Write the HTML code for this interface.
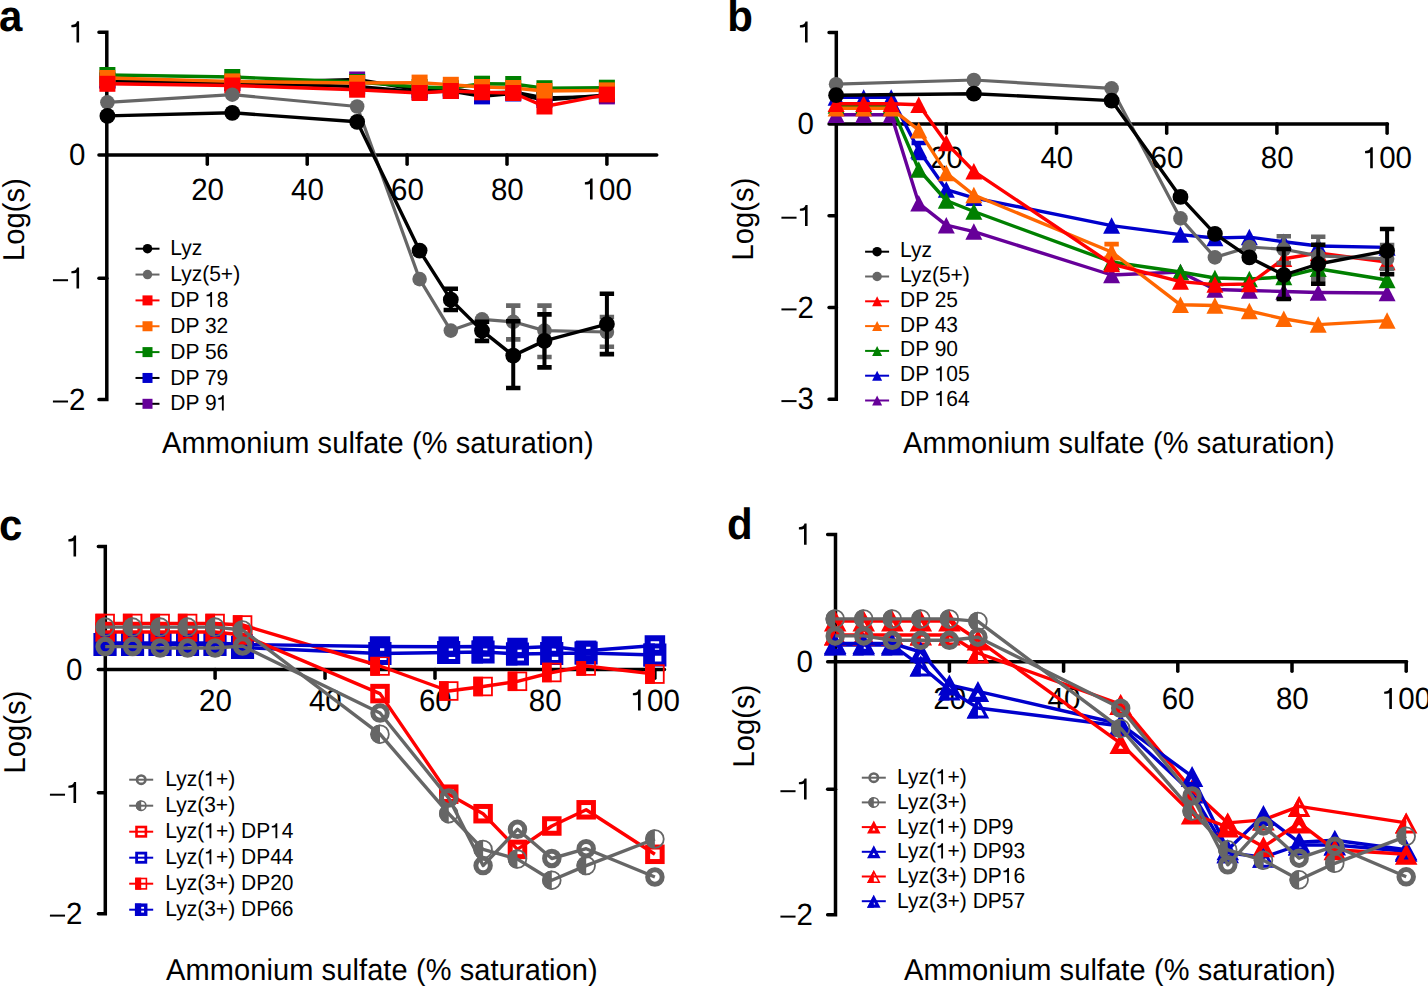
<!DOCTYPE html>
<html><head><meta charset="utf-8"><title>Figure</title>
<style>
html,body{margin:0;padding:0;background:#fff;}
body{width:1428px;height:986px;overflow:hidden;}
svg{display:block;}
text{font-family:"Liberation Sans", sans-serif;fill:#000;text-rendering:geometricPrecision;}
.tl{font-size:29.5px;}
.at{font-size:29px;letter-spacing:0.1px;}
.lg{font-size:21px;}
.pl{font-size:42px;font-weight:bold;}
.h1{fill:none;}
</style></head><body>
<svg width="1428" height="986" viewBox="0 0 1428 986">
<rect width="1428" height="986" fill="#fff"></rect>
<g stroke="#000" stroke-width="3.5" fill="none" stroke-linecap="round">
<path d="M98.95 32.2 H106.8 V399.6 H98.95" stroke-linejoin="miter" stroke-linecap="round"></path>
<path d="M98.95 278.3 H106.8"></path>
<path d="M98.95 155 H656.75"></path>
<path d="M207.3 155 V164.25"></path>
<path d="M307.2 155 V164.25"></path>
<path d="M407.1 155 V164.25"></path>
<path d="M507 155 V164.25"></path>
<path d="M606.9 155 V164.25"></path>
</g>
<text transform="translate(85.5,42.4) scale(1,1.04)" text-anchor="end" class="tl"><tspan class="h1">1</tspan></text>
<text transform="translate(85.5,165.2) scale(1,1.04)" text-anchor="end" class="tl">0</text>
<text transform="translate(85.5,288.5) scale(1,1.04)" text-anchor="end" class="tl"><tspan class="h1">−</tspan><tspan class="h1">1</tspan></text>
<text transform="translate(85.5,409.8) scale(1,1.04)" text-anchor="end" class="tl"><tspan class="h1">−</tspan>2</text>
<text transform="translate(207.6,199.6) scale(1,1.04)" text-anchor="middle" class="tl">20</text>
<text transform="translate(307.5,199.6) scale(1,1.04)" text-anchor="middle" class="tl">40</text>
<text transform="translate(407.4,199.6) scale(1,1.04)" text-anchor="middle" class="tl">60</text>
<text transform="translate(507.3,199.6) scale(1,1.04)" text-anchor="middle" class="tl">80</text>
<text transform="translate(607.2,199.6) scale(1,1.04)" text-anchor="middle" class="tl"><tspan class="h1">1</tspan>00</text>
<polyline points="107.4,80.5 232.28,83 357.15,79.5 419.59,90 450.81,89 482.02,93 513.24,92 544.46,98 606.9,96.4" fill="none" stroke="#000" stroke-width="3.4" stroke-linejoin="round"></polyline>
<rect x="99.4" y="72.5" width="16" height="16" fill="#660099"></rect>
<rect x="224.28" y="75" width="16" height="16" fill="#660099"></rect>
<rect x="349.15" y="71.5" width="16" height="16" fill="#660099"></rect>
<rect x="411.59" y="82" width="16" height="16" fill="#660099"></rect>
<rect x="442.81" y="81" width="16" height="16" fill="#660099"></rect>
<rect x="474.02" y="85" width="16" height="16" fill="#660099"></rect>
<rect x="505.24" y="84" width="16" height="16" fill="#660099"></rect>
<rect x="536.46" y="90" width="16" height="16" fill="#660099"></rect>
<rect x="598.9" y="88.4" width="16" height="16" fill="#660099"></rect>
<polyline points="107.4,80.5 232.28,83 357.15,86.5 419.59,92 450.81,91 482.02,96.4 513.24,93.5 544.46,100 606.9,95" fill="none" stroke="#000" stroke-width="3.4" stroke-linejoin="round"></polyline>
<rect x="99.4" y="72.5" width="16" height="16" fill="#0000cc"></rect>
<rect x="224.28" y="75" width="16" height="16" fill="#0000cc"></rect>
<rect x="349.15" y="78.5" width="16" height="16" fill="#0000cc"></rect>
<rect x="411.59" y="84" width="16" height="16" fill="#0000cc"></rect>
<rect x="442.81" y="83" width="16" height="16" fill="#0000cc"></rect>
<rect x="474.02" y="88.4" width="16" height="16" fill="#0000cc"></rect>
<rect x="505.24" y="85.5" width="16" height="16" fill="#0000cc"></rect>
<rect x="536.46" y="92" width="16" height="16" fill="#0000cc"></rect>
<rect x="598.9" y="87" width="16" height="16" fill="#0000cc"></rect>
<polyline points="107.4,75 232.28,77 357.15,82 419.59,87 450.81,88 482.02,83.7 513.24,84 544.46,88.2 606.9,87.7" fill="none" stroke="#008000" stroke-width="3.4" stroke-linejoin="round"></polyline>
<rect x="99.4" y="67" width="16" height="16" fill="#008000"></rect>
<rect x="224.28" y="69" width="16" height="16" fill="#008000"></rect>
<rect x="349.15" y="74" width="16" height="16" fill="#008000"></rect>
<rect x="411.59" y="79" width="16" height="16" fill="#008000"></rect>
<rect x="442.81" y="80" width="16" height="16" fill="#008000"></rect>
<rect x="474.02" y="75.7" width="16" height="16" fill="#008000"></rect>
<rect x="505.24" y="76" width="16" height="16" fill="#008000"></rect>
<rect x="536.46" y="80.2" width="16" height="16" fill="#008000"></rect>
<rect x="598.9" y="79.7" width="16" height="16" fill="#008000"></rect>
<polyline points="107.4,78 232.28,81.4 357.15,83 419.59,82.6 450.81,84.8 482.02,87 513.24,88 544.46,91 606.9,90.4" fill="none" stroke="#ff6600" stroke-width="3.4" stroke-linejoin="round"></polyline>
<rect x="99.4" y="70" width="16" height="16" fill="#ff6600"></rect>
<rect x="224.28" y="73.4" width="16" height="16" fill="#ff6600"></rect>
<rect x="349.15" y="75" width="16" height="16" fill="#ff6600"></rect>
<rect x="411.59" y="74.6" width="16" height="16" fill="#ff6600"></rect>
<rect x="442.81" y="76.8" width="16" height="16" fill="#ff6600"></rect>
<rect x="474.02" y="79" width="16" height="16" fill="#ff6600"></rect>
<rect x="505.24" y="80" width="16" height="16" fill="#ff6600"></rect>
<rect x="536.46" y="83" width="16" height="16" fill="#ff6600"></rect>
<rect x="598.9" y="82.4" width="16" height="16" fill="#ff6600"></rect>
<polyline points="107.4,83.8 232.28,85.5 357.15,89.7 419.59,93 450.81,91 482.02,92.3 513.24,93 544.46,106.5 606.9,94.6" fill="none" stroke="#ff0000" stroke-width="3.4" stroke-linejoin="round"></polyline>
<rect x="99.4" y="75.8" width="16" height="16" fill="#ff0000"></rect>
<rect x="224.28" y="77.5" width="16" height="16" fill="#ff0000"></rect>
<rect x="349.15" y="81.7" width="16" height="16" fill="#ff0000"></rect>
<rect x="411.59" y="85" width="16" height="16" fill="#ff0000"></rect>
<rect x="442.81" y="83" width="16" height="16" fill="#ff0000"></rect>
<rect x="474.02" y="84.3" width="16" height="16" fill="#ff0000"></rect>
<rect x="505.24" y="85" width="16" height="16" fill="#ff0000"></rect>
<rect x="536.46" y="98.5" width="16" height="16" fill="#ff0000"></rect>
<rect x="598.9" y="86.6" width="16" height="16" fill="#ff0000"></rect>
<polyline points="107.4,102.3 232.28,94.7 357.15,106.5 419.59,279.1 450.81,330.6 482.02,319.4 513.24,321.8 544.46,330.6 606.9,332" fill="none" stroke="#666666" stroke-width="3.2" stroke-linejoin="round"></polyline>
<path d="M513.24 305.6 V339.4" stroke="#666666" stroke-width="4" fill="none"></path><path d="M506.04 305.6 H520.44 M506.04 339.4 H520.44" stroke="#666666" stroke-width="4.6" fill="none"></path>
<path d="M544.46 305.6 V357" stroke="#666666" stroke-width="4" fill="none"></path><path d="M537.26 305.6 H551.66 M537.26 357 H551.66" stroke="#666666" stroke-width="4.6" fill="none"></path>
<path d="M606.9 317 V346.8" stroke="#666666" stroke-width="4" fill="none"></path><path d="M599.7 317 H614.1 M599.7 346.8 H614.1" stroke="#666666" stroke-width="4.6" fill="none"></path>
<circle cx="107.4" cy="102.3" r="7.3" fill="#666666"></circle>
<circle cx="232.28" cy="94.7" r="7.3" fill="#666666"></circle>
<circle cx="357.15" cy="106.5" r="7.3" fill="#666666"></circle>
<circle cx="419.59" cy="279.1" r="7.3" fill="#666666"></circle>
<circle cx="450.81" cy="330.6" r="7.3" fill="#666666"></circle>
<circle cx="482.02" cy="319.4" r="7.3" fill="#666666"></circle>
<circle cx="513.24" cy="321.8" r="7.3" fill="#666666"></circle>
<circle cx="544.46" cy="330.6" r="7.3" fill="#666666"></circle>
<circle cx="606.9" cy="332" r="7.3" fill="#666666"></circle>
<polyline points="107.4,115.9 232.28,112.8 357.15,121.8 419.59,250.6 450.81,299.7 482.02,330.6 513.24,355.6 544.46,340.9 606.9,324.1" fill="none" stroke="#000" stroke-width="3.4" stroke-linejoin="round"></polyline>
<path d="M450.81 288.8 V310" stroke="#000" stroke-width="4" fill="none"></path><path d="M443.61 288.8 H458.01 M443.61 310 H458.01" stroke="#000" stroke-width="4.6" fill="none"></path>
<path d="M482.02 321.8 V340.9" stroke="#000" stroke-width="4" fill="none"></path><path d="M474.82 321.8 H489.22 M474.82 340.9 H489.22" stroke="#000" stroke-width="4.6" fill="none"></path>
<path d="M513.24 321.2 V388" stroke="#000" stroke-width="4" fill="none"></path><path d="M506.04 321.2 H520.44 M506.04 388 H520.44" stroke="#000" stroke-width="4.6" fill="none"></path>
<path d="M544.46 314.4 V367.4" stroke="#000" stroke-width="4" fill="none"></path><path d="M537.26 314.4 H551.66 M537.26 367.4 H551.66" stroke="#000" stroke-width="4.6" fill="none"></path>
<path d="M606.9 293.8 V354.1" stroke="#000" stroke-width="4" fill="none"></path><path d="M599.7 293.8 H614.1 M599.7 354.1 H614.1" stroke="#000" stroke-width="4.6" fill="none"></path>
<circle cx="107.4" cy="115.9" r="7.9" fill="#000"></circle>
<circle cx="232.28" cy="112.8" r="7.9" fill="#000"></circle>
<circle cx="357.15" cy="121.8" r="7.9" fill="#000"></circle>
<circle cx="419.59" cy="250.6" r="7.9" fill="#000"></circle>
<circle cx="450.81" cy="299.7" r="7.9" fill="#000"></circle>
<circle cx="482.02" cy="330.6" r="7.9" fill="#000"></circle>
<circle cx="513.24" cy="355.6" r="7.9" fill="#000"></circle>
<circle cx="544.46" cy="340.9" r="7.9" fill="#000"></circle>
<circle cx="606.9" cy="324.1" r="7.9" fill="#000"></circle>
<line x1="135.5" y1="248.7" x2="159.5" y2="248.7" stroke="#000" stroke-width="2"></line>
<circle cx="147.5" cy="248.7" r="4.75" fill="#000"></circle>
<text transform="translate(170.3,255.3) scale(1,1.04)" class="lg">Lyz</text>
<line x1="135.5" y1="274.55" x2="159.5" y2="274.55" stroke="#666666" stroke-width="2"></line>
<circle cx="147.5" cy="274.55" r="4.75" fill="#666666"></circle>
<text transform="translate(170.3,281.15) scale(1,1.04)" class="lg">Lyz(5+)</text>
<line x1="135.5" y1="300.4" x2="159.5" y2="300.4" stroke="#ff0000" stroke-width="2"></line>
<rect x="142.5" y="295.4" width="10" height="10" fill="#ff0000"></rect>
<text transform="translate(170.3,307) scale(1,1.04)" class="lg">DP <tspan class="h1">1</tspan>8</text>
<line x1="135.5" y1="326.25" x2="159.5" y2="326.25" stroke="#ff6600" stroke-width="2"></line>
<rect x="142.5" y="321.25" width="10" height="10" fill="#ff6600"></rect>
<text transform="translate(170.3,332.85) scale(1,1.04)" class="lg">DP 32</text>
<line x1="135.5" y1="352.1" x2="159.5" y2="352.1" stroke="#008000" stroke-width="2"></line>
<rect x="142.5" y="347.1" width="10" height="10" fill="#008000"></rect>
<text transform="translate(170.3,358.7) scale(1,1.04)" class="lg">DP 56</text>
<line x1="135.5" y1="377.95" x2="159.5" y2="377.95" stroke="#000" stroke-width="2"></line>
<rect x="142.5" y="372.95" width="10" height="10" fill="#0000cc"></rect>
<text transform="translate(170.3,384.55) scale(1,1.04)" class="lg">DP 79</text>
<line x1="135.5" y1="403.8" x2="159.5" y2="403.8" stroke="#000" stroke-width="2"></line>
<rect x="142.5" y="398.8" width="10" height="10" fill="#660099"></rect>
<text transform="translate(170.3,410.4) scale(1,1.04)" class="lg">DP 9<tspan class="h1">1</tspan></text>
<text transform="translate(-1,31.1) scale(1,1.04)" class="pl">a</text>
<text transform="translate(23.7,219.5) rotate(-90) scale(1.0,1.04)" text-anchor="middle" class="at">Log(s)</text>
<text transform="translate(162,453) scale(1,1.04)" class="at">Ammonium sulfate (% saturation)</text>
<g stroke="#000" stroke-width="3.5" fill="none" stroke-linecap="round">
<path d="M829.05 32.4 H836.3 V399.2 H829.05" stroke-linejoin="miter" stroke-linecap="round"></path>
<path d="M829.05 215.8 H836.3"></path>
<path d="M829.05 307.5 H836.3"></path>
<path d="M829.05 124.1 H1387.45"></path>
<path d="M946.3 124.1 V133.25"></path>
<path d="M1056.5 124.1 V133.25"></path>
<path d="M1166.7 124.1 V133.25"></path>
<path d="M1276.9 124.1 V133.25"></path>
<path d="M1387.1 124.1 V133.25"></path>
</g>
<text transform="translate(814,42.6) scale(1,1.04)" text-anchor="end" class="tl"><tspan class="h1">1</tspan></text>
<text transform="translate(814,134.3) scale(1,1.04)" text-anchor="end" class="tl">0</text>
<text transform="translate(814,226) scale(1,1.04)" text-anchor="end" class="tl"><tspan class="h1">−</tspan><tspan class="h1">1</tspan></text>
<text transform="translate(814,317.7) scale(1,1.04)" text-anchor="end" class="tl"><tspan class="h1">−</tspan>2</text>
<text transform="translate(814,409.4) scale(1,1.04)" text-anchor="end" class="tl"><tspan class="h1">−</tspan>3</text>
<text transform="translate(946.6,168.3) scale(1,1.04)" text-anchor="middle" class="tl">20</text>
<text transform="translate(1056.8,168.3) scale(1,1.04)" text-anchor="middle" class="tl">40</text>
<text transform="translate(1167,168.3) scale(1,1.04)" text-anchor="middle" class="tl">60</text>
<text transform="translate(1277.2,168.3) scale(1,1.04)" text-anchor="middle" class="tl">80</text>
<text transform="translate(1387.4,168.3) scale(1,1.04)" text-anchor="middle" class="tl"><tspan class="h1">1</tspan>00</text>
<polyline points="836.1,114.7 863.65,114.7 891.2,114.7 918.75,203.3 946.3,225.2 973.85,231.6 1111.6,275 1180.47,272 1214.91,289.5 1249.35,290.5 1283.79,291.5 1318.22,292.5 1387.1,293" fill="none" stroke="#660099" stroke-width="3.4" stroke-linejoin="round"></polyline>
<path d="M836.1 106.45 L844.6 122.95 L827.6 122.95 Z" fill="#660099"></path>
<path d="M863.65 106.45 L872.15 122.95 L855.15 122.95 Z" fill="#660099"></path>
<path d="M891.2 106.45 L899.7 122.95 L882.7 122.95 Z" fill="#660099"></path>
<path d="M918.75 195.05 L927.25 211.55 L910.25 211.55 Z" fill="#660099"></path>
<path d="M946.3 216.95 L954.8 233.45 L937.8 233.45 Z" fill="#660099"></path>
<path d="M973.85 223.35 L982.35 239.85 L965.35 239.85 Z" fill="#660099"></path>
<path d="M1111.6 266.75 L1120.1 283.25 L1103.1 283.25 Z" fill="#660099"></path>
<path d="M1180.47 263.75 L1188.97 280.25 L1171.97 280.25 Z" fill="#660099"></path>
<path d="M1214.91 281.25 L1223.41 297.75 L1206.41 297.75 Z" fill="#660099"></path>
<path d="M1249.35 282.25 L1257.85 298.75 L1240.85 298.75 Z" fill="#660099"></path>
<path d="M1283.79 283.25 L1292.29 299.75 L1275.29 299.75 Z" fill="#660099"></path>
<path d="M1318.22 284.25 L1326.72 300.75 L1309.72 300.75 Z" fill="#660099"></path>
<path d="M1387.1 284.75 L1395.6 301.25 L1378.6 301.25 Z" fill="#660099"></path>
<polyline points="836.1,97.4 863.65,97.4 891.2,97.4 918.75,150.3 946.3,189.6 973.85,197.8 1111.6,225.6 1180.47,234.6 1214.91,238 1249.35,237.1 1283.79,241.7 1318.22,246 1387.1,247.4" fill="none" stroke="#0000cc" stroke-width="3.4" stroke-linejoin="round"></polyline>
<path d="M918.75 143 V158" stroke="#0000cc" stroke-width="4" fill="none"></path><path d="M911.55 143 H925.95 M911.55 158 H925.95" stroke="#0000cc" stroke-width="4.6" fill="none"></path>
<path d="M836.1 89.15 L844.6 105.65 L827.6 105.65 Z" fill="#0000cc"></path>
<path d="M863.65 89.15 L872.15 105.65 L855.15 105.65 Z" fill="#0000cc"></path>
<path d="M891.2 89.15 L899.7 105.65 L882.7 105.65 Z" fill="#0000cc"></path>
<path d="M918.75 142.05 L927.25 158.55 L910.25 158.55 Z" fill="#0000cc"></path>
<path d="M946.3 181.35 L954.8 197.85 L937.8 197.85 Z" fill="#0000cc"></path>
<path d="M973.85 189.55 L982.35 206.05 L965.35 206.05 Z" fill="#0000cc"></path>
<path d="M1111.6 217.35 L1120.1 233.85 L1103.1 233.85 Z" fill="#0000cc"></path>
<path d="M1180.47 226.35 L1188.97 242.85 L1171.97 242.85 Z" fill="#0000cc"></path>
<path d="M1214.91 229.75 L1223.41 246.25 L1206.41 246.25 Z" fill="#0000cc"></path>
<path d="M1249.35 228.85 L1257.85 245.35 L1240.85 245.35 Z" fill="#0000cc"></path>
<path d="M1283.79 233.45 L1292.29 249.95 L1275.29 249.95 Z" fill="#0000cc"></path>
<path d="M1318.22 237.75 L1326.72 254.25 L1309.72 254.25 Z" fill="#0000cc"></path>
<path d="M1387.1 239.15 L1395.6 255.65 L1378.6 255.65 Z" fill="#0000cc"></path>
<polyline points="836.1,105.6 863.65,105.6 891.2,105.6 918.75,169.5 946.3,200.5 973.85,211.5 1111.6,262 1180.47,272 1214.91,278 1249.35,279 1283.79,277 1318.22,268.7 1387.1,280" fill="none" stroke="#008000" stroke-width="3.4" stroke-linejoin="round"></polyline>
<path d="M836.1 97.35 L844.6 113.85 L827.6 113.85 Z" fill="#008000"></path>
<path d="M863.65 97.35 L872.15 113.85 L855.15 113.85 Z" fill="#008000"></path>
<path d="M891.2 97.35 L899.7 113.85 L882.7 113.85 Z" fill="#008000"></path>
<path d="M918.75 161.25 L927.25 177.75 L910.25 177.75 Z" fill="#008000"></path>
<path d="M946.3 192.25 L954.8 208.75 L937.8 208.75 Z" fill="#008000"></path>
<path d="M973.85 203.25 L982.35 219.75 L965.35 219.75 Z" fill="#008000"></path>
<path d="M1111.6 253.75 L1120.1 270.25 L1103.1 270.25 Z" fill="#008000"></path>
<path d="M1180.47 263.75 L1188.97 280.25 L1171.97 280.25 Z" fill="#008000"></path>
<path d="M1214.91 269.75 L1223.41 286.25 L1206.41 286.25 Z" fill="#008000"></path>
<path d="M1249.35 270.75 L1257.85 287.25 L1240.85 287.25 Z" fill="#008000"></path>
<path d="M1283.79 268.75 L1292.29 285.25 L1275.29 285.25 Z" fill="#008000"></path>
<path d="M1318.22 260.45 L1326.72 276.95 L1309.72 276.95 Z" fill="#008000"></path>
<path d="M1387.1 271.75 L1395.6 288.25 L1378.6 288.25 Z" fill="#008000"></path>
<polyline points="836.1,108.3 863.65,108.3 891.2,108.3 918.75,130.2 946.3,173.1 973.85,195 1111.6,252 1180.47,304.8 1214.91,305.5 1249.35,311 1283.79,318.8 1318.22,324.6 1387.1,320.6" fill="none" stroke="#ff6600" stroke-width="3.4" stroke-linejoin="round"></polyline>
<path d="M1111.6 244.1 V258" stroke="#ff6600" stroke-width="4" fill="none"></path><path d="M1104.4 244.1 H1118.8 M1104.4 258 H1118.8" stroke="#ff6600" stroke-width="4.6" fill="none"></path>
<path d="M836.1 100.05 L844.6 116.55 L827.6 116.55 Z" fill="#ff6600"></path>
<path d="M863.65 100.05 L872.15 116.55 L855.15 116.55 Z" fill="#ff6600"></path>
<path d="M891.2 100.05 L899.7 116.55 L882.7 116.55 Z" fill="#ff6600"></path>
<path d="M918.75 121.95 L927.25 138.45 L910.25 138.45 Z" fill="#ff6600"></path>
<path d="M946.3 164.85 L954.8 181.35 L937.8 181.35 Z" fill="#ff6600"></path>
<path d="M973.85 186.75 L982.35 203.25 L965.35 203.25 Z" fill="#ff6600"></path>
<path d="M1111.6 243.75 L1120.1 260.25 L1103.1 260.25 Z" fill="#ff6600"></path>
<path d="M1180.47 296.55 L1188.97 313.05 L1171.97 313.05 Z" fill="#ff6600"></path>
<path d="M1214.91 297.25 L1223.41 313.75 L1206.41 313.75 Z" fill="#ff6600"></path>
<path d="M1249.35 302.75 L1257.85 319.25 L1240.85 319.25 Z" fill="#ff6600"></path>
<path d="M1283.79 310.55 L1292.29 327.05 L1275.29 327.05 Z" fill="#ff6600"></path>
<path d="M1318.22 316.35 L1326.72 332.85 L1309.72 332.85 Z" fill="#ff6600"></path>
<path d="M1387.1 312.35 L1395.6 328.85 L1378.6 328.85 Z" fill="#ff6600"></path>
<polyline points="836.1,103.8 863.65,103.8 891.2,103.8 918.75,104.7 946.3,143 973.85,171.3 1111.6,264 1180.47,281.6 1214.91,284.6 1249.35,284 1283.79,258.8 1318.22,253 1387.1,262" fill="none" stroke="#ff0000" stroke-width="3.4" stroke-linejoin="round"></polyline>
<path d="M836.1 95.55 L844.6 112.05 L827.6 112.05 Z" fill="#ff0000"></path>
<path d="M863.65 95.55 L872.15 112.05 L855.15 112.05 Z" fill="#ff0000"></path>
<path d="M891.2 95.55 L899.7 112.05 L882.7 112.05 Z" fill="#ff0000"></path>
<path d="M918.75 96.45 L927.25 112.95 L910.25 112.95 Z" fill="#ff0000"></path>
<path d="M946.3 134.75 L954.8 151.25 L937.8 151.25 Z" fill="#ff0000"></path>
<path d="M973.85 163.05 L982.35 179.55 L965.35 179.55 Z" fill="#ff0000"></path>
<path d="M1111.6 255.75 L1120.1 272.25 L1103.1 272.25 Z" fill="#ff0000"></path>
<path d="M1180.47 273.35 L1188.97 289.85 L1171.97 289.85 Z" fill="#ff0000"></path>
<path d="M1214.91 276.35 L1223.41 292.85 L1206.41 292.85 Z" fill="#ff0000"></path>
<path d="M1249.35 275.75 L1257.85 292.25 L1240.85 292.25 Z" fill="#ff0000"></path>
<path d="M1283.79 250.55 L1292.29 267.05 L1275.29 267.05 Z" fill="#ff0000"></path>
<path d="M1318.22 244.75 L1326.72 261.25 L1309.72 261.25 Z" fill="#ff0000"></path>
<path d="M1387.1 253.75 L1395.6 270.25 L1378.6 270.25 Z" fill="#ff0000"></path>
<polyline points="836.1,84.2 973.85,80 1111.6,88.4 1180.47,218.4 1214.91,257.4 1249.35,247 1283.79,249.3 1318.22,255.9 1387.1,258.8" fill="none" stroke="#666666" stroke-width="3.2" stroke-linejoin="round"></polyline>
<path d="M1283.79 236.3 V263" stroke="#666666" stroke-width="4" fill="none"></path><path d="M1276.59 236.3 H1290.99 M1276.59 263 H1290.99" stroke="#666666" stroke-width="4.6" fill="none"></path>
<path d="M1318.22 236.8 V279" stroke="#666666" stroke-width="4" fill="none"></path><path d="M1311.02 236.8 H1325.42 M1311.02 279 H1325.42" stroke="#666666" stroke-width="4.6" fill="none"></path>
<path d="M1387.1 245 V269" stroke="#666666" stroke-width="4" fill="none"></path><path d="M1379.9 245 H1394.3 M1379.9 269 H1394.3" stroke="#666666" stroke-width="4.6" fill="none"></path>
<circle cx="836.1" cy="84.2" r="7.3" fill="#666666"></circle>
<circle cx="973.85" cy="80" r="7.3" fill="#666666"></circle>
<circle cx="1111.6" cy="88.4" r="7.3" fill="#666666"></circle>
<circle cx="1180.47" cy="218.4" r="7.3" fill="#666666"></circle>
<circle cx="1214.91" cy="257.4" r="7.3" fill="#666666"></circle>
<circle cx="1249.35" cy="247" r="7.3" fill="#666666"></circle>
<circle cx="1283.79" cy="249.3" r="7.3" fill="#666666"></circle>
<circle cx="1318.22" cy="255.9" r="7.3" fill="#666666"></circle>
<circle cx="1387.1" cy="258.8" r="7.3" fill="#666666"></circle>
<polyline points="836.1,95.2 973.85,93.7 1111.6,100.6 1180.47,196.9 1214.91,233.8 1249.35,257.4 1283.79,275 1318.22,264 1387.1,250.8" fill="none" stroke="#000" stroke-width="3.4" stroke-linejoin="round"></polyline>
<path d="M1283.79 249 V299" stroke="#000" stroke-width="4" fill="none"></path><path d="M1276.59 249 H1290.99 M1276.59 299 H1290.99" stroke="#000" stroke-width="4.6" fill="none"></path>
<path d="M1318.22 244.7 V283.6" stroke="#000" stroke-width="4" fill="none"></path><path d="M1311.02 244.7 H1325.42 M1311.02 283.6 H1325.42" stroke="#000" stroke-width="4.6" fill="none"></path>
<path d="M1387.1 229 V274.3" stroke="#000" stroke-width="4" fill="none"></path><path d="M1379.9 229 H1394.3 M1379.9 274.3 H1394.3" stroke="#000" stroke-width="4.6" fill="none"></path>
<circle cx="836.1" cy="95.2" r="7.9" fill="#000"></circle>
<circle cx="973.85" cy="93.7" r="7.9" fill="#000"></circle>
<circle cx="1111.6" cy="100.6" r="7.9" fill="#000"></circle>
<circle cx="1180.47" cy="196.9" r="7.9" fill="#000"></circle>
<circle cx="1214.91" cy="233.8" r="7.9" fill="#000"></circle>
<circle cx="1249.35" cy="257.4" r="7.9" fill="#000"></circle>
<circle cx="1283.79" cy="275" r="7.9" fill="#000"></circle>
<circle cx="1318.22" cy="264" r="7.9" fill="#000"></circle>
<circle cx="1387.1" cy="250.8" r="7.9" fill="#000"></circle>
<line x1="865.1" y1="251.7" x2="889.1" y2="251.7" stroke="#000" stroke-width="2"></line>
<circle cx="877.1" cy="251.7" r="4.75" fill="#000"></circle>
<text transform="translate(900,257.2) scale(1,1.04)" class="lg">Lyz</text>
<line x1="865.1" y1="276.5" x2="889.1" y2="276.5" stroke="#666666" stroke-width="2"></line>
<circle cx="877.1" cy="276.5" r="4.75" fill="#666666"></circle>
<text transform="translate(900,282) scale(1,1.04)" class="lg">Lyz(5+)</text>
<line x1="865.1" y1="301.3" x2="889.1" y2="301.3" stroke="#ff0000" stroke-width="2"></line>
<path d="M877.1 296.3 L882.1 306.3 L872.1 306.3 Z" fill="#ff0000"></path>
<text transform="translate(900,306.8) scale(1,1.04)" class="lg">DP 25</text>
<line x1="865.1" y1="326.1" x2="889.1" y2="326.1" stroke="#ff6600" stroke-width="2"></line>
<path d="M877.1 321.1 L882.1 331.1 L872.1 331.1 Z" fill="#ff6600"></path>
<text transform="translate(900,331.6) scale(1,1.04)" class="lg">DP 43</text>
<line x1="865.1" y1="350.9" x2="889.1" y2="350.9" stroke="#008000" stroke-width="2"></line>
<path d="M877.1 345.9 L882.1 355.9 L872.1 355.9 Z" fill="#008000"></path>
<text transform="translate(900,356.4) scale(1,1.04)" class="lg">DP 90</text>
<line x1="865.1" y1="375.7" x2="889.1" y2="375.7" stroke="#0000cc" stroke-width="2"></line>
<path d="M877.1 370.7 L882.1 380.7 L872.1 380.7 Z" fill="#0000cc"></path>
<text transform="translate(900,381.2) scale(1,1.04)" class="lg">DP <tspan class="h1">1</tspan>05</text>
<line x1="865.1" y1="400.5" x2="889.1" y2="400.5" stroke="#660099" stroke-width="2"></line>
<path d="M877.1 395.5 L882.1 405.5 L872.1 405.5 Z" fill="#660099"></path>
<text transform="translate(900,406) scale(1,1.04)" class="lg">DP <tspan class="h1">1</tspan>64</text>
<text transform="translate(727.2,31.1) scale(1,1.04)" class="pl">b</text>
<text transform="translate(753,219) rotate(-90) scale(1.0,1.04)" text-anchor="middle" class="at">Log(s)</text>
<text transform="translate(903,453) scale(1,1.04)" class="at">Ammonium sulfate (% saturation)</text>
<g stroke="#000" stroke-width="3.5" fill="none" stroke-linecap="round">
<path d="M98.35 546.4 H105.3 V913.7 H98.35" stroke-linejoin="miter" stroke-linecap="round"></path>
<path d="M98.35 792.8 H105.3"></path>
<path d="M98.35 669.5 H664.45"></path>
<path d="M215.1 669.5 V678.25"></path>
<path d="M325.05 669.5 V678.25"></path>
<path d="M435 669.5 V678.25"></path>
<path d="M544.95 669.5 V678.25"></path>
<path d="M654.9 669.5 V678.25"></path>
</g>
<text transform="translate(82.5,556.6) scale(1,1.04)" text-anchor="end" class="tl"><tspan class="h1">1</tspan></text>
<text transform="translate(82.5,679.7) scale(1,1.04)" text-anchor="end" class="tl">0</text>
<text transform="translate(82.5,803) scale(1,1.04)" text-anchor="end" class="tl"><tspan class="h1">−</tspan><tspan class="h1">1</tspan></text>
<text transform="translate(82.5,923.9) scale(1,1.04)" text-anchor="end" class="tl"><tspan class="h1">−</tspan>2</text>
<text transform="translate(215.4,710.5) scale(1,1.04)" text-anchor="middle" class="tl">20</text>
<text transform="translate(325.35,710.5) scale(1,1.04)" text-anchor="middle" class="tl">40</text>
<text transform="translate(435.3,710.5) scale(1,1.04)" text-anchor="middle" class="tl">60</text>
<text transform="translate(545.25,710.5) scale(1,1.04)" text-anchor="middle" class="tl">80</text>
<text transform="translate(655.2,710.5) scale(1,1.04)" text-anchor="middle" class="tl"><tspan class="h1">1</tspan>00</text>
<polyline points="105.15,644.5 132.64,644.5 160.12,644.5 187.61,644.5 215.1,644.5 242.59,647.5 380.02,653.5 448.74,652.5 483.1,652 517.46,654 551.82,653.5 586.18,653 654.9,655" fill="none" stroke="#0000cc" stroke-width="3.4" stroke-linejoin="round"></polyline>
<rect x="96.15" y="635.5" width="18" height="18" fill="none" stroke="#0000cc" stroke-width="5"></rect><rect x="93.65" y="633" width="11.5" height="23" fill="#0000cc"></rect>
<rect x="123.64" y="635.5" width="18" height="18" fill="none" stroke="#0000cc" stroke-width="5"></rect><rect x="121.14" y="633" width="11.5" height="23" fill="#0000cc"></rect>
<rect x="151.12" y="635.5" width="18" height="18" fill="none" stroke="#0000cc" stroke-width="5"></rect><rect x="148.62" y="633" width="11.5" height="23" fill="#0000cc"></rect>
<rect x="178.61" y="635.5" width="18" height="18" fill="none" stroke="#0000cc" stroke-width="5"></rect><rect x="176.11" y="633" width="11.5" height="23" fill="#0000cc"></rect>
<rect x="206.1" y="635.5" width="18" height="18" fill="none" stroke="#0000cc" stroke-width="5"></rect><rect x="203.6" y="633" width="11.5" height="23" fill="#0000cc"></rect>
<rect x="233.59" y="638.5" width="18" height="18" fill="none" stroke="#0000cc" stroke-width="5"></rect><rect x="231.09" y="636" width="11.5" height="23" fill="#0000cc"></rect>
<rect x="371.02" y="644.5" width="18" height="18" fill="none" stroke="#0000cc" stroke-width="5"></rect><rect x="368.52" y="642" width="11.5" height="23" fill="#0000cc"></rect>
<rect x="439.74" y="643.5" width="18" height="18" fill="none" stroke="#0000cc" stroke-width="5"></rect><rect x="437.24" y="641" width="11.5" height="23" fill="#0000cc"></rect>
<rect x="474.1" y="643" width="18" height="18" fill="none" stroke="#0000cc" stroke-width="5"></rect><rect x="471.6" y="640.5" width="11.5" height="23" fill="#0000cc"></rect>
<rect x="508.46" y="645" width="18" height="18" fill="none" stroke="#0000cc" stroke-width="5"></rect><rect x="505.96" y="642.5" width="11.5" height="23" fill="#0000cc"></rect>
<rect x="542.82" y="644.5" width="18" height="18" fill="none" stroke="#0000cc" stroke-width="5"></rect><rect x="540.32" y="642" width="11.5" height="23" fill="#0000cc"></rect>
<rect x="577.18" y="644" width="18" height="18" fill="none" stroke="#0000cc" stroke-width="5"></rect><rect x="574.68" y="641.5" width="11.5" height="23" fill="#0000cc"></rect>
<rect x="645.9" y="646" width="18" height="18" fill="none" stroke="#0000cc" stroke-width="5"></rect><rect x="643.4" y="643.5" width="11.5" height="23" fill="#0000cc"></rect>
<polyline points="105.15,623.5 132.64,623.5 160.12,623.5 187.61,623.5 215.1,623.5 242.59,625 380.02,666 448.74,691 483.1,686.5 517.46,681.3 551.82,672.5 586.18,666 654.9,674.1" fill="none" stroke="#ff0000" stroke-width="3.4" stroke-linejoin="round"></polyline>
<rect x="96.3" y="614.65" width="17.7" height="17.7" fill="none" stroke="#ff0000" stroke-width="1.8"></rect><rect x="95.4" y="613.75" width="9.75" height="19.5" fill="#ff0000"></rect>
<rect x="123.79" y="614.65" width="17.7" height="17.7" fill="none" stroke="#ff0000" stroke-width="1.8"></rect><rect x="122.89" y="613.75" width="9.75" height="19.5" fill="#ff0000"></rect>
<rect x="151.28" y="614.65" width="17.7" height="17.7" fill="none" stroke="#ff0000" stroke-width="1.8"></rect><rect x="150.38" y="613.75" width="9.75" height="19.5" fill="#ff0000"></rect>
<rect x="178.76" y="614.65" width="17.7" height="17.7" fill="none" stroke="#ff0000" stroke-width="1.8"></rect><rect x="177.86" y="613.75" width="9.75" height="19.5" fill="#ff0000"></rect>
<rect x="206.25" y="614.65" width="17.7" height="17.7" fill="none" stroke="#ff0000" stroke-width="1.8"></rect><rect x="205.35" y="613.75" width="9.75" height="19.5" fill="#ff0000"></rect>
<rect x="233.74" y="616.15" width="17.7" height="17.7" fill="none" stroke="#ff0000" stroke-width="1.8"></rect><rect x="232.84" y="615.25" width="9.75" height="19.5" fill="#ff0000"></rect>
<rect x="371.17" y="657.15" width="17.7" height="17.7" fill="none" stroke="#ff0000" stroke-width="1.8"></rect><rect x="370.27" y="656.25" width="9.75" height="19.5" fill="#ff0000"></rect>
<rect x="439.89" y="682.15" width="17.7" height="17.7" fill="none" stroke="#ff0000" stroke-width="1.8"></rect><rect x="438.99" y="681.25" width="9.75" height="19.5" fill="#ff0000"></rect>
<rect x="474.25" y="677.65" width="17.7" height="17.7" fill="none" stroke="#ff0000" stroke-width="1.8"></rect><rect x="473.35" y="676.75" width="9.75" height="19.5" fill="#ff0000"></rect>
<rect x="508.61" y="672.45" width="17.7" height="17.7" fill="none" stroke="#ff0000" stroke-width="1.8"></rect><rect x="507.71" y="671.55" width="9.75" height="19.5" fill="#ff0000"></rect>
<rect x="542.97" y="663.65" width="17.7" height="17.7" fill="none" stroke="#ff0000" stroke-width="1.8"></rect><rect x="542.07" y="662.75" width="9.75" height="19.5" fill="#ff0000"></rect>
<rect x="577.33" y="657.15" width="17.7" height="17.7" fill="none" stroke="#ff0000" stroke-width="1.8"></rect><rect x="576.43" y="656.25" width="9.75" height="19.5" fill="#ff0000"></rect>
<rect x="646.05" y="665.25" width="17.7" height="17.7" fill="none" stroke="#ff0000" stroke-width="1.8"></rect><rect x="645.15" y="664.35" width="9.75" height="19.5" fill="#ff0000"></rect>
<polyline points="105.15,643 132.64,643 160.12,643 187.61,643 215.1,643 242.59,644.5 380.02,646.5 448.74,646.7 483.1,646.5 517.46,648 551.82,646.5 586.18,650.8 654.9,645.5" fill="none" stroke="#0000cc" stroke-width="3.4" stroke-linejoin="round"></polyline>
<rect x="97.9" y="635.75" width="14.5" height="14.5" fill="none" stroke="#0000cc" stroke-width="6"></rect>
<rect x="125.39" y="635.75" width="14.5" height="14.5" fill="none" stroke="#0000cc" stroke-width="6"></rect>
<rect x="152.88" y="635.75" width="14.5" height="14.5" fill="none" stroke="#0000cc" stroke-width="6"></rect>
<rect x="180.36" y="635.75" width="14.5" height="14.5" fill="none" stroke="#0000cc" stroke-width="6"></rect>
<rect x="207.85" y="635.75" width="14.5" height="14.5" fill="none" stroke="#0000cc" stroke-width="6"></rect>
<rect x="235.34" y="637.25" width="14.5" height="14.5" fill="none" stroke="#0000cc" stroke-width="6"></rect>
<rect x="372.77" y="639.25" width="14.5" height="14.5" fill="none" stroke="#0000cc" stroke-width="6"></rect>
<rect x="441.49" y="639.45" width="14.5" height="14.5" fill="none" stroke="#0000cc" stroke-width="6"></rect>
<rect x="475.85" y="639.25" width="14.5" height="14.5" fill="none" stroke="#0000cc" stroke-width="6"></rect>
<rect x="510.21" y="640.75" width="14.5" height="14.5" fill="none" stroke="#0000cc" stroke-width="6"></rect>
<rect x="544.57" y="639.25" width="14.5" height="14.5" fill="none" stroke="#0000cc" stroke-width="6"></rect>
<rect x="578.93" y="643.55" width="14.5" height="14.5" fill="none" stroke="#0000cc" stroke-width="6"></rect>
<rect x="647.65" y="638.25" width="14.5" height="14.5" fill="none" stroke="#0000cc" stroke-width="6"></rect>
<polyline points="105.15,632 132.64,632 160.12,632 187.61,632 215.1,632 242.59,635 380.02,693.6 448.74,794.2 483.1,813.7 517.46,849.4 551.82,826 586.18,809.8 654.9,854.3" fill="none" stroke="#ff0000" stroke-width="3.4" stroke-linejoin="round"></polyline>
<rect x="97.9" y="624.75" width="14.5" height="14.5" fill="none" stroke="#ff0000" stroke-width="5"></rect>
<rect x="125.39" y="624.75" width="14.5" height="14.5" fill="none" stroke="#ff0000" stroke-width="5"></rect>
<rect x="152.88" y="624.75" width="14.5" height="14.5" fill="none" stroke="#ff0000" stroke-width="5"></rect>
<rect x="180.36" y="624.75" width="14.5" height="14.5" fill="none" stroke="#ff0000" stroke-width="5"></rect>
<rect x="207.85" y="624.75" width="14.5" height="14.5" fill="none" stroke="#ff0000" stroke-width="5"></rect>
<rect x="235.34" y="627.75" width="14.5" height="14.5" fill="none" stroke="#ff0000" stroke-width="5"></rect>
<rect x="372.77" y="686.35" width="14.5" height="14.5" fill="none" stroke="#ff0000" stroke-width="5"></rect>
<rect x="441.49" y="786.95" width="14.5" height="14.5" fill="none" stroke="#ff0000" stroke-width="5"></rect>
<rect x="475.85" y="806.45" width="14.5" height="14.5" fill="none" stroke="#ff0000" stroke-width="5"></rect>
<rect x="510.21" y="842.15" width="14.5" height="14.5" fill="none" stroke="#ff0000" stroke-width="5"></rect>
<rect x="544.57" y="818.75" width="14.5" height="14.5" fill="none" stroke="#ff0000" stroke-width="5"></rect>
<rect x="578.93" y="802.55" width="14.5" height="14.5" fill="none" stroke="#ff0000" stroke-width="5"></rect>
<rect x="647.65" y="847.05" width="14.5" height="14.5" fill="none" stroke="#ff0000" stroke-width="5"></rect>
<polyline points="105.15,627.1 132.64,627.1 160.12,627.1 187.61,627.1 215.1,627.1 242.59,630 380.02,734.2 448.74,813.7 483.1,849.4 517.46,859.1 551.82,880.2 586.18,865.6 654.9,839" fill="none" stroke="#666666" stroke-width="3.4" stroke-linejoin="round"></polyline>
<circle cx="105.15" cy="627.1" r="8.85" fill="none" stroke="#666666" stroke-width="1.8"></circle><path d="M105.15 617.35 A9.75 9.75 0 0 0 105.15 636.85 Z" fill="#666666"></path>
<circle cx="132.64" cy="627.1" r="8.85" fill="none" stroke="#666666" stroke-width="1.8"></circle><path d="M132.64 617.35 A9.75 9.75 0 0 0 132.64 636.85 Z" fill="#666666"></path>
<circle cx="160.12" cy="627.1" r="8.85" fill="none" stroke="#666666" stroke-width="1.8"></circle><path d="M160.12 617.35 A9.75 9.75 0 0 0 160.12 636.85 Z" fill="#666666"></path>
<circle cx="187.61" cy="627.1" r="8.85" fill="none" stroke="#666666" stroke-width="1.8"></circle><path d="M187.61 617.35 A9.75 9.75 0 0 0 187.61 636.85 Z" fill="#666666"></path>
<circle cx="215.1" cy="627.1" r="8.85" fill="none" stroke="#666666" stroke-width="1.8"></circle><path d="M215.1 617.35 A9.75 9.75 0 0 0 215.1 636.85 Z" fill="#666666"></path>
<circle cx="242.59" cy="630" r="8.85" fill="none" stroke="#666666" stroke-width="1.8"></circle><path d="M242.59 620.25 A9.75 9.75 0 0 0 242.59 639.75 Z" fill="#666666"></path>
<circle cx="380.02" cy="734.2" r="8.85" fill="none" stroke="#666666" stroke-width="1.8"></circle><path d="M380.02 724.45 A9.75 9.75 0 0 0 380.02 743.95 Z" fill="#666666"></path>
<circle cx="448.74" cy="813.7" r="8.85" fill="none" stroke="#666666" stroke-width="1.8"></circle><path d="M448.74 803.95 A9.75 9.75 0 0 0 448.74 823.45 Z" fill="#666666"></path>
<circle cx="483.1" cy="849.4" r="8.85" fill="none" stroke="#666666" stroke-width="1.8"></circle><path d="M483.1 839.65 A9.75 9.75 0 0 0 483.1 859.15 Z" fill="#666666"></path>
<circle cx="517.46" cy="859.1" r="8.85" fill="none" stroke="#666666" stroke-width="1.8"></circle><path d="M517.46 849.35 A9.75 9.75 0 0 0 517.46 868.85 Z" fill="#666666"></path>
<circle cx="551.82" cy="880.2" r="8.85" fill="none" stroke="#666666" stroke-width="1.8"></circle><path d="M551.82 870.45 A9.75 9.75 0 0 0 551.82 889.95 Z" fill="#666666"></path>
<circle cx="586.18" cy="865.6" r="8.85" fill="none" stroke="#666666" stroke-width="1.8"></circle><path d="M586.18 855.85 A9.75 9.75 0 0 0 586.18 875.35 Z" fill="#666666"></path>
<circle cx="654.9" cy="839" r="8.85" fill="none" stroke="#666666" stroke-width="1.8"></circle><path d="M654.9 829.25 A9.75 9.75 0 0 0 654.9 848.75 Z" fill="#666666"></path>
<polyline points="105.15,646.6 132.64,646.6 160.12,648 187.61,648 215.1,648 242.59,646 380.02,713 448.74,798.1 483.1,865.6 517.46,829.3 551.82,858.5 586.18,848.7 654.9,877" fill="none" stroke="#666666" stroke-width="3.4" stroke-linejoin="round"></polyline>
<circle cx="105.15" cy="646.6" r="7.25" fill="none" stroke="#666666" stroke-width="5"></circle>
<circle cx="132.64" cy="646.6" r="7.25" fill="none" stroke="#666666" stroke-width="5"></circle>
<circle cx="160.12" cy="648" r="7.25" fill="none" stroke="#666666" stroke-width="5"></circle>
<circle cx="187.61" cy="648" r="7.25" fill="none" stroke="#666666" stroke-width="5"></circle>
<circle cx="215.1" cy="648" r="7.25" fill="none" stroke="#666666" stroke-width="5"></circle>
<circle cx="242.59" cy="646" r="7.25" fill="none" stroke="#666666" stroke-width="5"></circle>
<circle cx="380.02" cy="713" r="7.25" fill="none" stroke="#666666" stroke-width="5"></circle>
<circle cx="448.74" cy="798.1" r="7.25" fill="none" stroke="#666666" stroke-width="5"></circle>
<circle cx="483.1" cy="865.6" r="7.25" fill="none" stroke="#666666" stroke-width="5"></circle>
<circle cx="517.46" cy="829.3" r="7.25" fill="none" stroke="#666666" stroke-width="5"></circle>
<circle cx="551.82" cy="858.5" r="7.25" fill="none" stroke="#666666" stroke-width="5"></circle>
<circle cx="586.18" cy="848.7" r="7.25" fill="none" stroke="#666666" stroke-width="5"></circle>
<circle cx="654.9" cy="877" r="7.25" fill="none" stroke="#666666" stroke-width="5"></circle>
<line x1="129.2" y1="779.7" x2="153.2" y2="779.7" stroke="#666666" stroke-width="2"></line>
<circle cx="141.2" cy="779.7" r="4.2" fill="none" stroke="#666666" stroke-width="2.6"></circle>
<text transform="translate(165.3,786.3) scale(1,1.04)" class="lg">Lyz(<tspan class="h1">1</tspan>+)</text>
<line x1="129.2" y1="805.7" x2="153.2" y2="805.7" stroke="#666666" stroke-width="2"></line>
<circle cx="141.2" cy="805.7" r="4.7" fill="none" stroke="#666666" stroke-width="1.6"></circle><path d="M141.2 800.2 A5.5 5.5 0 0 0 141.2 811.2 Z" fill="#666666"></path>
<text transform="translate(165.3,812.3) scale(1,1.04)" class="lg">Lyz(3+)</text>
<line x1="129.2" y1="831.7" x2="153.2" y2="831.7" stroke="#ff0000" stroke-width="2"></line>
<rect x="136.5" y="827" width="9.4" height="9.4" fill="none" stroke="#ff0000" stroke-width="2.6"></rect>
<text transform="translate(165.3,838.3) scale(1,1.04)" class="lg">Lyz(<tspan class="h1">1</tspan>+) DP<tspan class="h1">1</tspan>4</text>
<line x1="129.2" y1="857.7" x2="153.2" y2="857.7" stroke="#0000cc" stroke-width="2"></line>
<rect x="136.6" y="853.1" width="9.2" height="9.2" fill="none" stroke="#0000cc" stroke-width="2.8"></rect>
<text transform="translate(165.3,864.3) scale(1,1.04)" class="lg">Lyz(<tspan class="h1">1</tspan>+) DP44</text>
<line x1="129.2" y1="883.7" x2="153.2" y2="883.7" stroke="#ff0000" stroke-width="2"></line>
<rect x="136" y="878.5" width="10.4" height="10.4" fill="none" stroke="#ff0000" stroke-width="1.6"></rect><rect x="135.2" y="877.7" width="6" height="12" fill="#ff0000"></rect>
<text transform="translate(165.3,890.3) scale(1,1.04)" class="lg">Lyz(3+) DP20</text>
<line x1="129.2" y1="909.7" x2="153.2" y2="909.7" stroke="#0000cc" stroke-width="2"></line>
<rect x="136.65" y="905.15" width="9.1" height="9.1" fill="none" stroke="#0000cc" stroke-width="3.4"></rect><rect x="134.95" y="903.45" width="6.25" height="12.5" fill="#0000cc"></rect>
<text transform="translate(165.3,916.3) scale(1,1.04)" class="lg">Lyz(3+) DP66</text>
<text transform="translate(-1,540) scale(1,1.04)" class="pl">c</text>
<text transform="translate(24.5,732) rotate(-90) scale(1.0,1.04)" text-anchor="middle" class="at">Log(s)</text>
<text transform="translate(166,980) scale(1,1.04)" class="at">Ammonium sulfate (% saturation)</text>
<g stroke="#000" stroke-width="3.5" fill="none" stroke-linecap="round">
<path d="M827.65 534.5 H835.5 V914.7 H827.65" stroke-linejoin="miter" stroke-linecap="round"></path>
<path d="M827.65 789.3 H835.5"></path>
<path d="M827.65 661.8 H1406.55"></path>
<path d="M949.4 661.8 V671.25"></path>
<path d="M1063.6 661.8 V671.25"></path>
<path d="M1177.8 661.8 V671.25"></path>
<path d="M1292 661.8 V671.25"></path>
<path d="M1406.2 661.8 V671.25"></path>
</g>
<text transform="translate(813,544.7) scale(1,1.04)" text-anchor="end" class="tl"><tspan class="h1">1</tspan></text>
<text transform="translate(813,672) scale(1,1.04)" text-anchor="end" class="tl">0</text>
<text transform="translate(813,799.5) scale(1,1.04)" text-anchor="end" class="tl"><tspan class="h1">−</tspan><tspan class="h1">1</tspan></text>
<text transform="translate(813,924.9) scale(1,1.04)" text-anchor="end" class="tl"><tspan class="h1">−</tspan>2</text>
<text transform="translate(949.7,709) scale(1,1.04)" text-anchor="middle" class="tl">20</text>
<text transform="translate(1063.9,709) scale(1,1.04)" text-anchor="middle" class="tl">40</text>
<text transform="translate(1178.1,709) scale(1,1.04)" text-anchor="middle" class="tl">60</text>
<text transform="translate(1292.3,709) scale(1,1.04)" text-anchor="middle" class="tl">80</text>
<text transform="translate(1406.5,709) scale(1,1.04)" text-anchor="middle" class="tl"><tspan class="h1">1</tspan>00</text>
<polyline points="835.2,645 863.75,645 892.3,645 920.85,666 949.4,690 977.95,708 1120.7,726 1192.08,792.9 1227.76,852.8 1263.45,857.3 1299.14,845 1334.83,845 1406.2,851.3" fill="none" stroke="#0000cc" stroke-width="3.4" stroke-linejoin="round"></polyline>
<path d="M835.2 637.68 L843.94 654 L826.46 654 Z" fill="none" stroke="#0000cc" stroke-width="3" stroke-linejoin="miter"></path><path d="M835.2 634.5 L835.2 655.5 L823.95 655.5 Z" fill="#0000cc"></path>
<path d="M863.75 637.68 L872.49 654 L855.01 654 Z" fill="none" stroke="#0000cc" stroke-width="3" stroke-linejoin="miter"></path><path d="M863.75 634.5 L863.75 655.5 L852.5 655.5 Z" fill="#0000cc"></path>
<path d="M892.3 637.68 L901.04 654 L883.56 654 Z" fill="none" stroke="#0000cc" stroke-width="3" stroke-linejoin="miter"></path><path d="M892.3 634.5 L892.3 655.5 L881.05 655.5 Z" fill="#0000cc"></path>
<path d="M920.85 658.68 L929.59 675 L912.11 675 Z" fill="none" stroke="#0000cc" stroke-width="3" stroke-linejoin="miter"></path><path d="M920.85 655.5 L920.85 676.5 L909.6 676.5 Z" fill="#0000cc"></path>
<path d="M949.4 682.68 L958.14 699 L940.66 699 Z" fill="none" stroke="#0000cc" stroke-width="3" stroke-linejoin="miter"></path><path d="M949.4 679.5 L949.4 700.5 L938.15 700.5 Z" fill="#0000cc"></path>
<path d="M977.95 700.68 L986.69 717 L969.21 717 Z" fill="none" stroke="#0000cc" stroke-width="3" stroke-linejoin="miter"></path><path d="M977.95 697.5 L977.95 718.5 L966.7 718.5 Z" fill="#0000cc"></path>
<path d="M1120.7 718.68 L1129.44 735 L1111.96 735 Z" fill="none" stroke="#0000cc" stroke-width="3" stroke-linejoin="miter"></path><path d="M1120.7 715.5 L1120.7 736.5 L1109.45 736.5 Z" fill="#0000cc"></path>
<path d="M1192.08 785.58 L1200.82 801.9 L1183.33 801.9 Z" fill="none" stroke="#0000cc" stroke-width="3" stroke-linejoin="miter"></path><path d="M1192.08 782.4 L1192.08 803.4 L1180.83 803.4 Z" fill="#0000cc"></path>
<path d="M1227.76 845.48 L1236.51 861.8 L1219.02 861.8 Z" fill="none" stroke="#0000cc" stroke-width="3" stroke-linejoin="miter"></path><path d="M1227.76 842.3 L1227.76 863.3 L1216.51 863.3 Z" fill="#0000cc"></path>
<path d="M1263.45 849.98 L1272.19 866.3 L1254.71 866.3 Z" fill="none" stroke="#0000cc" stroke-width="3" stroke-linejoin="miter"></path><path d="M1263.45 846.8 L1263.45 867.8 L1252.2 867.8 Z" fill="#0000cc"></path>
<path d="M1299.14 837.68 L1307.88 854 L1290.39 854 Z" fill="none" stroke="#0000cc" stroke-width="3" stroke-linejoin="miter"></path><path d="M1299.14 834.5 L1299.14 855.5 L1287.89 855.5 Z" fill="#0000cc"></path>
<path d="M1334.83 837.68 L1343.57 854 L1326.08 854 Z" fill="none" stroke="#0000cc" stroke-width="3" stroke-linejoin="miter"></path><path d="M1334.83 834.5 L1334.83 855.5 L1323.58 855.5 Z" fill="#0000cc"></path>
<path d="M1406.2 843.98 L1414.94 860.3 L1397.46 860.3 Z" fill="none" stroke="#0000cc" stroke-width="3" stroke-linejoin="miter"></path><path d="M1406.2 840.8 L1406.2 861.8 L1394.95 861.8 Z" fill="#0000cc"></path>
<polyline points="835.2,635 863.75,635 892.3,635 920.85,635 949.4,635 977.95,653 1120.7,704.4 1192.08,790 1227.76,822.9 1263.45,819.9 1299.14,806.4 1406.2,822.9" fill="none" stroke="#ff0000" stroke-width="3.4" stroke-linejoin="round"></polyline>
<path d="M835.2 627.68 L843.94 644 L826.46 644 Z" fill="none" stroke="#ff0000" stroke-width="3" stroke-linejoin="miter"></path><path d="M835.2 624.5 L835.2 645.5 L823.95 645.5 Z" fill="#ff0000"></path>
<path d="M863.75 627.68 L872.49 644 L855.01 644 Z" fill="none" stroke="#ff0000" stroke-width="3" stroke-linejoin="miter"></path><path d="M863.75 624.5 L863.75 645.5 L852.5 645.5 Z" fill="#ff0000"></path>
<path d="M892.3 627.68 L901.04 644 L883.56 644 Z" fill="none" stroke="#ff0000" stroke-width="3" stroke-linejoin="miter"></path><path d="M892.3 624.5 L892.3 645.5 L881.05 645.5 Z" fill="#ff0000"></path>
<path d="M920.85 627.68 L929.59 644 L912.11 644 Z" fill="none" stroke="#ff0000" stroke-width="3" stroke-linejoin="miter"></path><path d="M920.85 624.5 L920.85 645.5 L909.6 645.5 Z" fill="#ff0000"></path>
<path d="M949.4 627.68 L958.14 644 L940.66 644 Z" fill="none" stroke="#ff0000" stroke-width="3" stroke-linejoin="miter"></path><path d="M949.4 624.5 L949.4 645.5 L938.15 645.5 Z" fill="#ff0000"></path>
<path d="M977.95 645.68 L986.69 662 L969.21 662 Z" fill="none" stroke="#ff0000" stroke-width="3" stroke-linejoin="miter"></path><path d="M977.95 642.5 L977.95 663.5 L966.7 663.5 Z" fill="#ff0000"></path>
<path d="M1120.7 697.08 L1129.44 713.4 L1111.96 713.4 Z" fill="none" stroke="#ff0000" stroke-width="3" stroke-linejoin="miter"></path><path d="M1120.7 693.9 L1120.7 714.9 L1109.45 714.9 Z" fill="#ff0000"></path>
<path d="M1192.08 782.68 L1200.82 799 L1183.33 799 Z" fill="none" stroke="#ff0000" stroke-width="3" stroke-linejoin="miter"></path><path d="M1192.08 779.5 L1192.08 800.5 L1180.83 800.5 Z" fill="#ff0000"></path>
<path d="M1227.76 815.58 L1236.51 831.9 L1219.02 831.9 Z" fill="none" stroke="#ff0000" stroke-width="3" stroke-linejoin="miter"></path><path d="M1227.76 812.4 L1227.76 833.4 L1216.51 833.4 Z" fill="#ff0000"></path>
<path d="M1263.45 812.58 L1272.19 828.9 L1254.71 828.9 Z" fill="none" stroke="#ff0000" stroke-width="3" stroke-linejoin="miter"></path><path d="M1263.45 809.4 L1263.45 830.4 L1252.2 830.4 Z" fill="#ff0000"></path>
<path d="M1299.14 799.08 L1307.88 815.4 L1290.39 815.4 Z" fill="none" stroke="#ff0000" stroke-width="3" stroke-linejoin="miter"></path><path d="M1299.14 795.9 L1299.14 816.9 L1287.89 816.9 Z" fill="#ff0000"></path>
<path d="M1406.2 815.58 L1414.94 831.9 L1397.46 831.9 Z" fill="none" stroke="#ff0000" stroke-width="3" stroke-linejoin="miter"></path><path d="M1406.2 812.4 L1406.2 833.4 L1394.95 833.4 Z" fill="#ff0000"></path>
<polyline points="835.2,643.5 863.75,643.5 892.3,643.5 920.85,652 949.4,685 977.95,691.4 1120.7,724 1192.08,776.4 1227.76,849.8 1263.45,815.4 1299.14,842.3 1334.83,840.2 1406.2,849.8" fill="none" stroke="#0000cc" stroke-width="3.4" stroke-linejoin="round"></polyline>
<path d="M835.2 638.51 L842.11 651.4 L828.29 651.4 Z" fill="none" stroke="#0000cc" stroke-width="5.2" stroke-linejoin="miter"></path>
<path d="M863.75 638.51 L870.66 651.4 L856.84 651.4 Z" fill="none" stroke="#0000cc" stroke-width="5.2" stroke-linejoin="miter"></path>
<path d="M892.3 638.51 L899.21 651.4 L885.39 651.4 Z" fill="none" stroke="#0000cc" stroke-width="5.2" stroke-linejoin="miter"></path>
<path d="M920.85 647.01 L927.76 659.9 L913.94 659.9 Z" fill="none" stroke="#0000cc" stroke-width="5.2" stroke-linejoin="miter"></path>
<path d="M949.4 680.01 L956.31 692.9 L942.49 692.9 Z" fill="none" stroke="#0000cc" stroke-width="5.2" stroke-linejoin="miter"></path>
<path d="M977.95 686.41 L984.86 699.3 L971.04 699.3 Z" fill="none" stroke="#0000cc" stroke-width="5.2" stroke-linejoin="miter"></path>
<path d="M1120.7 719.01 L1127.61 731.9 L1113.79 731.9 Z" fill="none" stroke="#0000cc" stroke-width="5.2" stroke-linejoin="miter"></path>
<path d="M1192.08 771.41 L1198.98 784.3 L1185.17 784.3 Z" fill="none" stroke="#0000cc" stroke-width="5.2" stroke-linejoin="miter"></path>
<path d="M1227.76 844.81 L1234.67 857.7 L1220.85 857.7 Z" fill="none" stroke="#0000cc" stroke-width="5.2" stroke-linejoin="miter"></path>
<path d="M1263.45 810.41 L1270.36 823.3 L1256.54 823.3 Z" fill="none" stroke="#0000cc" stroke-width="5.2" stroke-linejoin="miter"></path>
<path d="M1299.14 837.31 L1306.05 850.2 L1292.23 850.2 Z" fill="none" stroke="#0000cc" stroke-width="5.2" stroke-linejoin="miter"></path>
<path d="M1334.83 835.21 L1341.73 848.1 L1327.92 848.1 Z" fill="none" stroke="#0000cc" stroke-width="5.2" stroke-linejoin="miter"></path>
<path d="M1406.2 844.81 L1413.11 857.7 L1399.29 857.7 Z" fill="none" stroke="#0000cc" stroke-width="5.2" stroke-linejoin="miter"></path>
<polyline points="835.2,621 863.75,621 892.3,621 920.85,621 949.4,621 977.95,640 1120.7,743.4 1192.08,813.9 1227.76,827 1263.45,846.8 1299.14,822.9 1334.83,849.8 1406.2,854.3" fill="none" stroke="#ff0000" stroke-width="3.4" stroke-linejoin="round"></polyline>
<path d="M835.2 616.01 L842.11 628.9 L828.29 628.9 Z" fill="none" stroke="#ff0000" stroke-width="5.2" stroke-linejoin="miter"></path>
<path d="M863.75 616.01 L870.66 628.9 L856.84 628.9 Z" fill="none" stroke="#ff0000" stroke-width="5.2" stroke-linejoin="miter"></path>
<path d="M892.3 616.01 L899.21 628.9 L885.39 628.9 Z" fill="none" stroke="#ff0000" stroke-width="5.2" stroke-linejoin="miter"></path>
<path d="M920.85 616.01 L927.76 628.9 L913.94 628.9 Z" fill="none" stroke="#ff0000" stroke-width="5.2" stroke-linejoin="miter"></path>
<path d="M949.4 616.01 L956.31 628.9 L942.49 628.9 Z" fill="none" stroke="#ff0000" stroke-width="5.2" stroke-linejoin="miter"></path>
<path d="M977.95 635.01 L984.86 647.9 L971.04 647.9 Z" fill="none" stroke="#ff0000" stroke-width="5.2" stroke-linejoin="miter"></path>
<path d="M1120.7 738.41 L1127.61 751.3 L1113.79 751.3 Z" fill="none" stroke="#ff0000" stroke-width="5.2" stroke-linejoin="miter"></path>
<path d="M1192.08 808.91 L1198.98 821.8 L1185.17 821.8 Z" fill="none" stroke="#ff0000" stroke-width="5.2" stroke-linejoin="miter"></path>
<path d="M1227.76 822.01 L1234.67 834.9 L1220.85 834.9 Z" fill="none" stroke="#ff0000" stroke-width="5.2" stroke-linejoin="miter"></path>
<path d="M1263.45 841.81 L1270.36 854.7 L1256.54 854.7 Z" fill="none" stroke="#ff0000" stroke-width="5.2" stroke-linejoin="miter"></path>
<path d="M1299.14 817.91 L1306.05 830.8 L1292.23 830.8 Z" fill="none" stroke="#ff0000" stroke-width="5.2" stroke-linejoin="miter"></path>
<path d="M1334.83 844.81 L1341.73 857.7 L1327.92 857.7 Z" fill="none" stroke="#ff0000" stroke-width="5.2" stroke-linejoin="miter"></path>
<path d="M1406.2 849.31 L1413.11 862.2 L1399.29 862.2 Z" fill="none" stroke="#ff0000" stroke-width="5.2" stroke-linejoin="miter"></path>
<polyline points="835.2,618.9 863.75,618.9 892.3,618.9 920.85,618.9 949.4,618.9 977.95,621.4 1120.7,728.4 1192.08,810.9 1227.76,849.8 1263.45,860.3 1299.14,879.8 1334.83,863.3 1406.2,836.3" fill="none" stroke="#666666" stroke-width="3.4" stroke-linejoin="round"></polyline>
<circle cx="835.2" cy="618.9" r="8.85" fill="none" stroke="#666666" stroke-width="1.8"></circle><path d="M835.2 609.15 A9.75 9.75 0 0 0 835.2 628.65 Z" fill="#666666"></path>
<circle cx="863.75" cy="618.9" r="8.85" fill="none" stroke="#666666" stroke-width="1.8"></circle><path d="M863.75 609.15 A9.75 9.75 0 0 0 863.75 628.65 Z" fill="#666666"></path>
<circle cx="892.3" cy="618.9" r="8.85" fill="none" stroke="#666666" stroke-width="1.8"></circle><path d="M892.3 609.15 A9.75 9.75 0 0 0 892.3 628.65 Z" fill="#666666"></path>
<circle cx="920.85" cy="618.9" r="8.85" fill="none" stroke="#666666" stroke-width="1.8"></circle><path d="M920.85 609.15 A9.75 9.75 0 0 0 920.85 628.65 Z" fill="#666666"></path>
<circle cx="949.4" cy="618.9" r="8.85" fill="none" stroke="#666666" stroke-width="1.8"></circle><path d="M949.4 609.15 A9.75 9.75 0 0 0 949.4 628.65 Z" fill="#666666"></path>
<circle cx="977.95" cy="621.4" r="8.85" fill="none" stroke="#666666" stroke-width="1.8"></circle><path d="M977.95 611.65 A9.75 9.75 0 0 0 977.95 631.15 Z" fill="#666666"></path>
<circle cx="1120.7" cy="728.4" r="8.85" fill="none" stroke="#666666" stroke-width="1.8"></circle><path d="M1120.7 718.65 A9.75 9.75 0 0 0 1120.7 738.15 Z" fill="#666666"></path>
<circle cx="1192.08" cy="810.9" r="8.85" fill="none" stroke="#666666" stroke-width="1.8"></circle><path d="M1192.08 801.15 A9.75 9.75 0 0 0 1192.08 820.65 Z" fill="#666666"></path>
<circle cx="1227.76" cy="849.8" r="8.85" fill="none" stroke="#666666" stroke-width="1.8"></circle><path d="M1227.76 840.05 A9.75 9.75 0 0 0 1227.76 859.55 Z" fill="#666666"></path>
<circle cx="1263.45" cy="860.3" r="8.85" fill="none" stroke="#666666" stroke-width="1.8"></circle><path d="M1263.45 850.55 A9.75 9.75 0 0 0 1263.45 870.05 Z" fill="#666666"></path>
<circle cx="1299.14" cy="879.8" r="8.85" fill="none" stroke="#666666" stroke-width="1.8"></circle><path d="M1299.14 870.05 A9.75 9.75 0 0 0 1299.14 889.55 Z" fill="#666666"></path>
<circle cx="1334.83" cy="863.3" r="8.85" fill="none" stroke="#666666" stroke-width="1.8"></circle><path d="M1334.83 853.55 A9.75 9.75 0 0 0 1334.83 873.05 Z" fill="#666666"></path>
<circle cx="1406.2" cy="836.3" r="8.85" fill="none" stroke="#666666" stroke-width="1.8"></circle><path d="M1406.2 826.55 A9.75 9.75 0 0 0 1406.2 846.05 Z" fill="#666666"></path>
<polyline points="835.2,635.9 863.75,635.9 892.3,640.3 920.85,640.3 949.4,640.3 977.95,637.2 1120.7,708.3 1192.08,795.9 1227.76,864.8 1263.45,825.9 1299.14,858.2 1334.83,846.2 1406.2,876.8" fill="none" stroke="#666666" stroke-width="3.4" stroke-linejoin="round"></polyline>
<circle cx="835.2" cy="635.9" r="7.25" fill="none" stroke="#666666" stroke-width="5"></circle>
<circle cx="863.75" cy="635.9" r="7.25" fill="none" stroke="#666666" stroke-width="5"></circle>
<circle cx="892.3" cy="640.3" r="7.25" fill="none" stroke="#666666" stroke-width="5"></circle>
<circle cx="920.85" cy="640.3" r="7.25" fill="none" stroke="#666666" stroke-width="5"></circle>
<circle cx="949.4" cy="640.3" r="7.25" fill="none" stroke="#666666" stroke-width="5"></circle>
<circle cx="977.95" cy="637.2" r="7.25" fill="none" stroke="#666666" stroke-width="5"></circle>
<circle cx="1120.7" cy="708.3" r="7.25" fill="none" stroke="#666666" stroke-width="5"></circle>
<circle cx="1192.08" cy="795.9" r="7.25" fill="none" stroke="#666666" stroke-width="5"></circle>
<circle cx="1227.76" cy="864.8" r="7.25" fill="none" stroke="#666666" stroke-width="5"></circle>
<circle cx="1263.45" cy="825.9" r="7.25" fill="none" stroke="#666666" stroke-width="5"></circle>
<circle cx="1299.14" cy="858.2" r="7.25" fill="none" stroke="#666666" stroke-width="5"></circle>
<circle cx="1334.83" cy="846.2" r="7.25" fill="none" stroke="#666666" stroke-width="5"></circle>
<circle cx="1406.2" cy="876.8" r="7.25" fill="none" stroke="#666666" stroke-width="5"></circle>
<line x1="861.8" y1="777.7" x2="885.8" y2="777.7" stroke="#666666" stroke-width="2"></line>
<circle cx="873.8" cy="777.7" r="4.2" fill="none" stroke="#666666" stroke-width="2.6"></circle>
<text transform="translate(897,784.3) scale(1,1.04)" class="lg">Lyz(<tspan class="h1">1</tspan>+)</text>
<line x1="861.8" y1="802.4" x2="885.8" y2="802.4" stroke="#666666" stroke-width="2"></line>
<circle cx="873.8" cy="802.4" r="4.7" fill="none" stroke="#666666" stroke-width="1.6"></circle><path d="M873.8 796.9 A5.5 5.5 0 0 0 873.8 807.9 Z" fill="#666666"></path>
<text transform="translate(897,809) scale(1,1.04)" class="lg">Lyz(3+)</text>
<line x1="861.8" y1="827.1" x2="885.8" y2="827.1" stroke="#ff0000" stroke-width="2"></line>
<path d="M873.8 824.07 L877.92 832 L869.68 832 Z" fill="none" stroke="#ff0000" stroke-width="3.2" stroke-linejoin="miter"></path>
<text transform="translate(897,833.7) scale(1,1.04)" class="lg">Lyz(<tspan class="h1">1</tspan>+) DP9</text>
<line x1="861.8" y1="851.8" x2="885.8" y2="851.8" stroke="#0000cc" stroke-width="2"></line>
<path d="M873.8 848.77 L877.92 856.7 L869.68 856.7 Z" fill="none" stroke="#0000cc" stroke-width="3.2" stroke-linejoin="miter"></path>
<text transform="translate(897,858.4) scale(1,1.04)" class="lg">Lyz(<tspan class="h1">1</tspan>+) DP93</text>
<line x1="861.8" y1="876.5" x2="885.8" y2="876.5" stroke="#ff0000" stroke-width="2"></line>
<path d="M873.8 871.74 L879.23 882.2 L868.37 882.2 Z" fill="none" stroke="#ff0000" stroke-width="1.6" stroke-linejoin="miter"></path><path d="M873.8 870 L873.8 883 L867.05 883 Z" fill="#ff0000"></path>
<text transform="translate(897,883.1) scale(1,1.04)" class="lg">Lyz(3+) DP<tspan class="h1">1</tspan>6</text>
<line x1="861.8" y1="901.2" x2="885.8" y2="901.2" stroke="#0000cc" stroke-width="2"></line>
<path d="M873.8 898.17 L877.92 906.1 L869.68 906.1 Z" fill="none" stroke="#0000cc" stroke-width="3.2" stroke-linejoin="miter"></path><path d="M873.8 894.7 L873.8 907.7 L867.05 907.7 Z" fill="#0000cc"></path>
<text transform="translate(897,907.8) scale(1,1.04)" class="lg">Lyz(3+) DP57</text>
<text transform="translate(727,538.6) scale(1,1.04)" class="pl">d</text>
<text transform="translate(754.2,726) rotate(-90) scale(1.0,1.04)" text-anchor="middle" class="at">Log(s)</text>
<text transform="translate(904,980) scale(1,1.04)" class="at">Ammonium sulfate (% saturation)</text>
<g fill="#000"><path d="M696 0V1409H548C520 1290 430 1170 160 1158V1010H330C420 1012 480 1030 515 1060V0Z" transform="translate(85.5,42.4) scale(1,1.04) translate(-16.42,0.00) scale(0.014404,-0.014404)"></path><path d="M75 487H1125V620H75Z" transform="translate(85.5,288.5) scale(1,1.04) translate(-33.66,0.00) scale(0.014404,-0.014404)"></path><path d="M696 0V1409H548C520 1290 430 1170 160 1158V1010H330C420 1012 480 1030 515 1060V0Z" transform="translate(85.5,288.5) scale(1,1.04) translate(-16.42,0.00) scale(0.014404,-0.014404)"></path><path d="M75 487H1125V620H75Z" transform="translate(85.5,409.8) scale(1,1.04) translate(-33.66,0.00) scale(0.014404,-0.014404)"></path><path d="M696 0V1409H548C520 1290 430 1170 160 1158V1010H330C420 1012 480 1030 515 1060V0Z" transform="translate(607.2,199.6) scale(1,1.04) translate(-24.63,0.00) scale(0.014404,-0.014404)"></path><path d="M696 0V1409H548C520 1290 430 1170 160 1158V1010H330C420 1012 480 1030 515 1060V0Z" transform="translate(170.3,307) scale(1,1.04) translate(34.64,0.00) scale(0.010254,-0.010254)"></path><path d="M696 0V1409H548C520 1290 430 1170 160 1158V1010H330C420 1012 480 1030 515 1060V0Z" transform="translate(170.3,410.4) scale(1,1.04) translate(46.31,0.00) scale(0.010254,-0.010254)"></path><path d="M696 0V1409H548C520 1290 430 1170 160 1158V1010H330C420 1012 480 1030 515 1060V0Z" transform="translate(814,42.6) scale(1,1.04) translate(-16.42,0.00) scale(0.014404,-0.014404)"></path><path d="M75 487H1125V620H75Z" transform="translate(814,226) scale(1,1.04) translate(-33.66,0.00) scale(0.014404,-0.014404)"></path><path d="M696 0V1409H548C520 1290 430 1170 160 1158V1010H330C420 1012 480 1030 515 1060V0Z" transform="translate(814,226) scale(1,1.04) translate(-16.42,0.00) scale(0.014404,-0.014404)"></path><path d="M75 487H1125V620H75Z" transform="translate(814,317.7) scale(1,1.04) translate(-33.66,0.00) scale(0.014404,-0.014404)"></path><path d="M75 487H1125V620H75Z" transform="translate(814,409.4) scale(1,1.04) translate(-33.66,0.00) scale(0.014404,-0.014404)"></path><path d="M696 0V1409H548C520 1290 430 1170 160 1158V1010H330C420 1012 480 1030 515 1060V0Z" transform="translate(1387.4,168.3) scale(1,1.04) translate(-24.63,0.00) scale(0.014404,-0.014404)"></path><path d="M696 0V1409H548C520 1290 430 1170 160 1158V1010H330C420 1012 480 1030 515 1060V0Z" transform="translate(900,381.2) scale(1,1.04) translate(34.64,0.00) scale(0.010254,-0.010254)"></path><path d="M696 0V1409H548C520 1290 430 1170 160 1158V1010H330C420 1012 480 1030 515 1060V0Z" transform="translate(900,406) scale(1,1.04) translate(34.64,0.00) scale(0.010254,-0.010254)"></path><path d="M696 0V1409H548C520 1290 430 1170 160 1158V1010H330C420 1012 480 1030 515 1060V0Z" transform="translate(82.5,556.6) scale(1,1.04) translate(-16.42,0.00) scale(0.014404,-0.014404)"></path><path d="M75 487H1125V620H75Z" transform="translate(82.5,803) scale(1,1.04) translate(-33.66,0.00) scale(0.014404,-0.014404)"></path><path d="M696 0V1409H548C520 1290 430 1170 160 1158V1010H330C420 1012 480 1030 515 1060V0Z" transform="translate(82.5,803) scale(1,1.04) translate(-16.42,0.00) scale(0.014404,-0.014404)"></path><path d="M75 487H1125V620H75Z" transform="translate(82.5,923.9) scale(1,1.04) translate(-33.66,0.00) scale(0.014404,-0.014404)"></path><path d="M696 0V1409H548C520 1290 430 1170 160 1158V1010H330C420 1012 480 1030 515 1060V0Z" transform="translate(655.2,710.5) scale(1,1.04) translate(-24.63,0.00) scale(0.014404,-0.014404)"></path><path d="M696 0V1409H548C520 1290 430 1170 160 1158V1010H330C420 1012 480 1030 515 1060V0Z" transform="translate(165.3,786.3) scale(1,1.04) translate(38.91,0.00) scale(0.010254,-0.010254)"></path><path d="M696 0V1409H548C520 1290 430 1170 160 1158V1010H330C420 1012 480 1030 515 1060V0Z" transform="translate(165.3,838.3) scale(1,1.04) translate(38.91,0.00) scale(0.010254,-0.010254)"></path><path d="M696 0V1409H548C520 1290 430 1170 160 1158V1010H330C420 1012 480 1030 515 1060V0Z" transform="translate(165.3,838.3) scale(1,1.04) translate(104.86,0.00) scale(0.010254,-0.010254)"></path><path d="M696 0V1409H548C520 1290 430 1170 160 1158V1010H330C420 1012 480 1030 515 1060V0Z" transform="translate(165.3,864.3) scale(1,1.04) translate(38.91,0.00) scale(0.010254,-0.010254)"></path><path d="M696 0V1409H548C520 1290 430 1170 160 1158V1010H330C420 1012 480 1030 515 1060V0Z" transform="translate(813,544.7) scale(1,1.04) translate(-16.42,0.00) scale(0.014404,-0.014404)"></path><path d="M75 487H1125V620H75Z" transform="translate(813,799.5) scale(1,1.04) translate(-33.66,0.00) scale(0.014404,-0.014404)"></path><path d="M696 0V1409H548C520 1290 430 1170 160 1158V1010H330C420 1012 480 1030 515 1060V0Z" transform="translate(813,799.5) scale(1,1.04) translate(-16.42,0.00) scale(0.014404,-0.014404)"></path><path d="M75 487H1125V620H75Z" transform="translate(813,924.9) scale(1,1.04) translate(-33.66,0.00) scale(0.014404,-0.014404)"></path><path d="M696 0V1409H548C520 1290 430 1170 160 1158V1010H330C420 1012 480 1030 515 1060V0Z" transform="translate(1406.5,709) scale(1,1.04) translate(-24.63,0.00) scale(0.014404,-0.014404)"></path><path d="M696 0V1409H548C520 1290 430 1170 160 1158V1010H330C420 1012 480 1030 515 1060V0Z" transform="translate(897,784.3) scale(1,1.04) translate(38.91,0.00) scale(0.010254,-0.010254)"></path><path d="M696 0V1409H548C520 1290 430 1170 160 1158V1010H330C420 1012 480 1030 515 1060V0Z" transform="translate(897,833.7) scale(1,1.04) translate(38.91,0.00) scale(0.010254,-0.010254)"></path><path d="M696 0V1409H548C520 1290 430 1170 160 1158V1010H330C420 1012 480 1030 515 1060V0Z" transform="translate(897,858.4) scale(1,1.04) translate(38.91,0.00) scale(0.010254,-0.010254)"></path><path d="M696 0V1409H548C520 1290 430 1170 160 1158V1010H330C420 1012 480 1030 515 1060V0Z" transform="translate(897,883.1) scale(1,1.04) translate(104.84,0.00) scale(0.010254,-0.010254)"></path></g></svg>
</body></html>
